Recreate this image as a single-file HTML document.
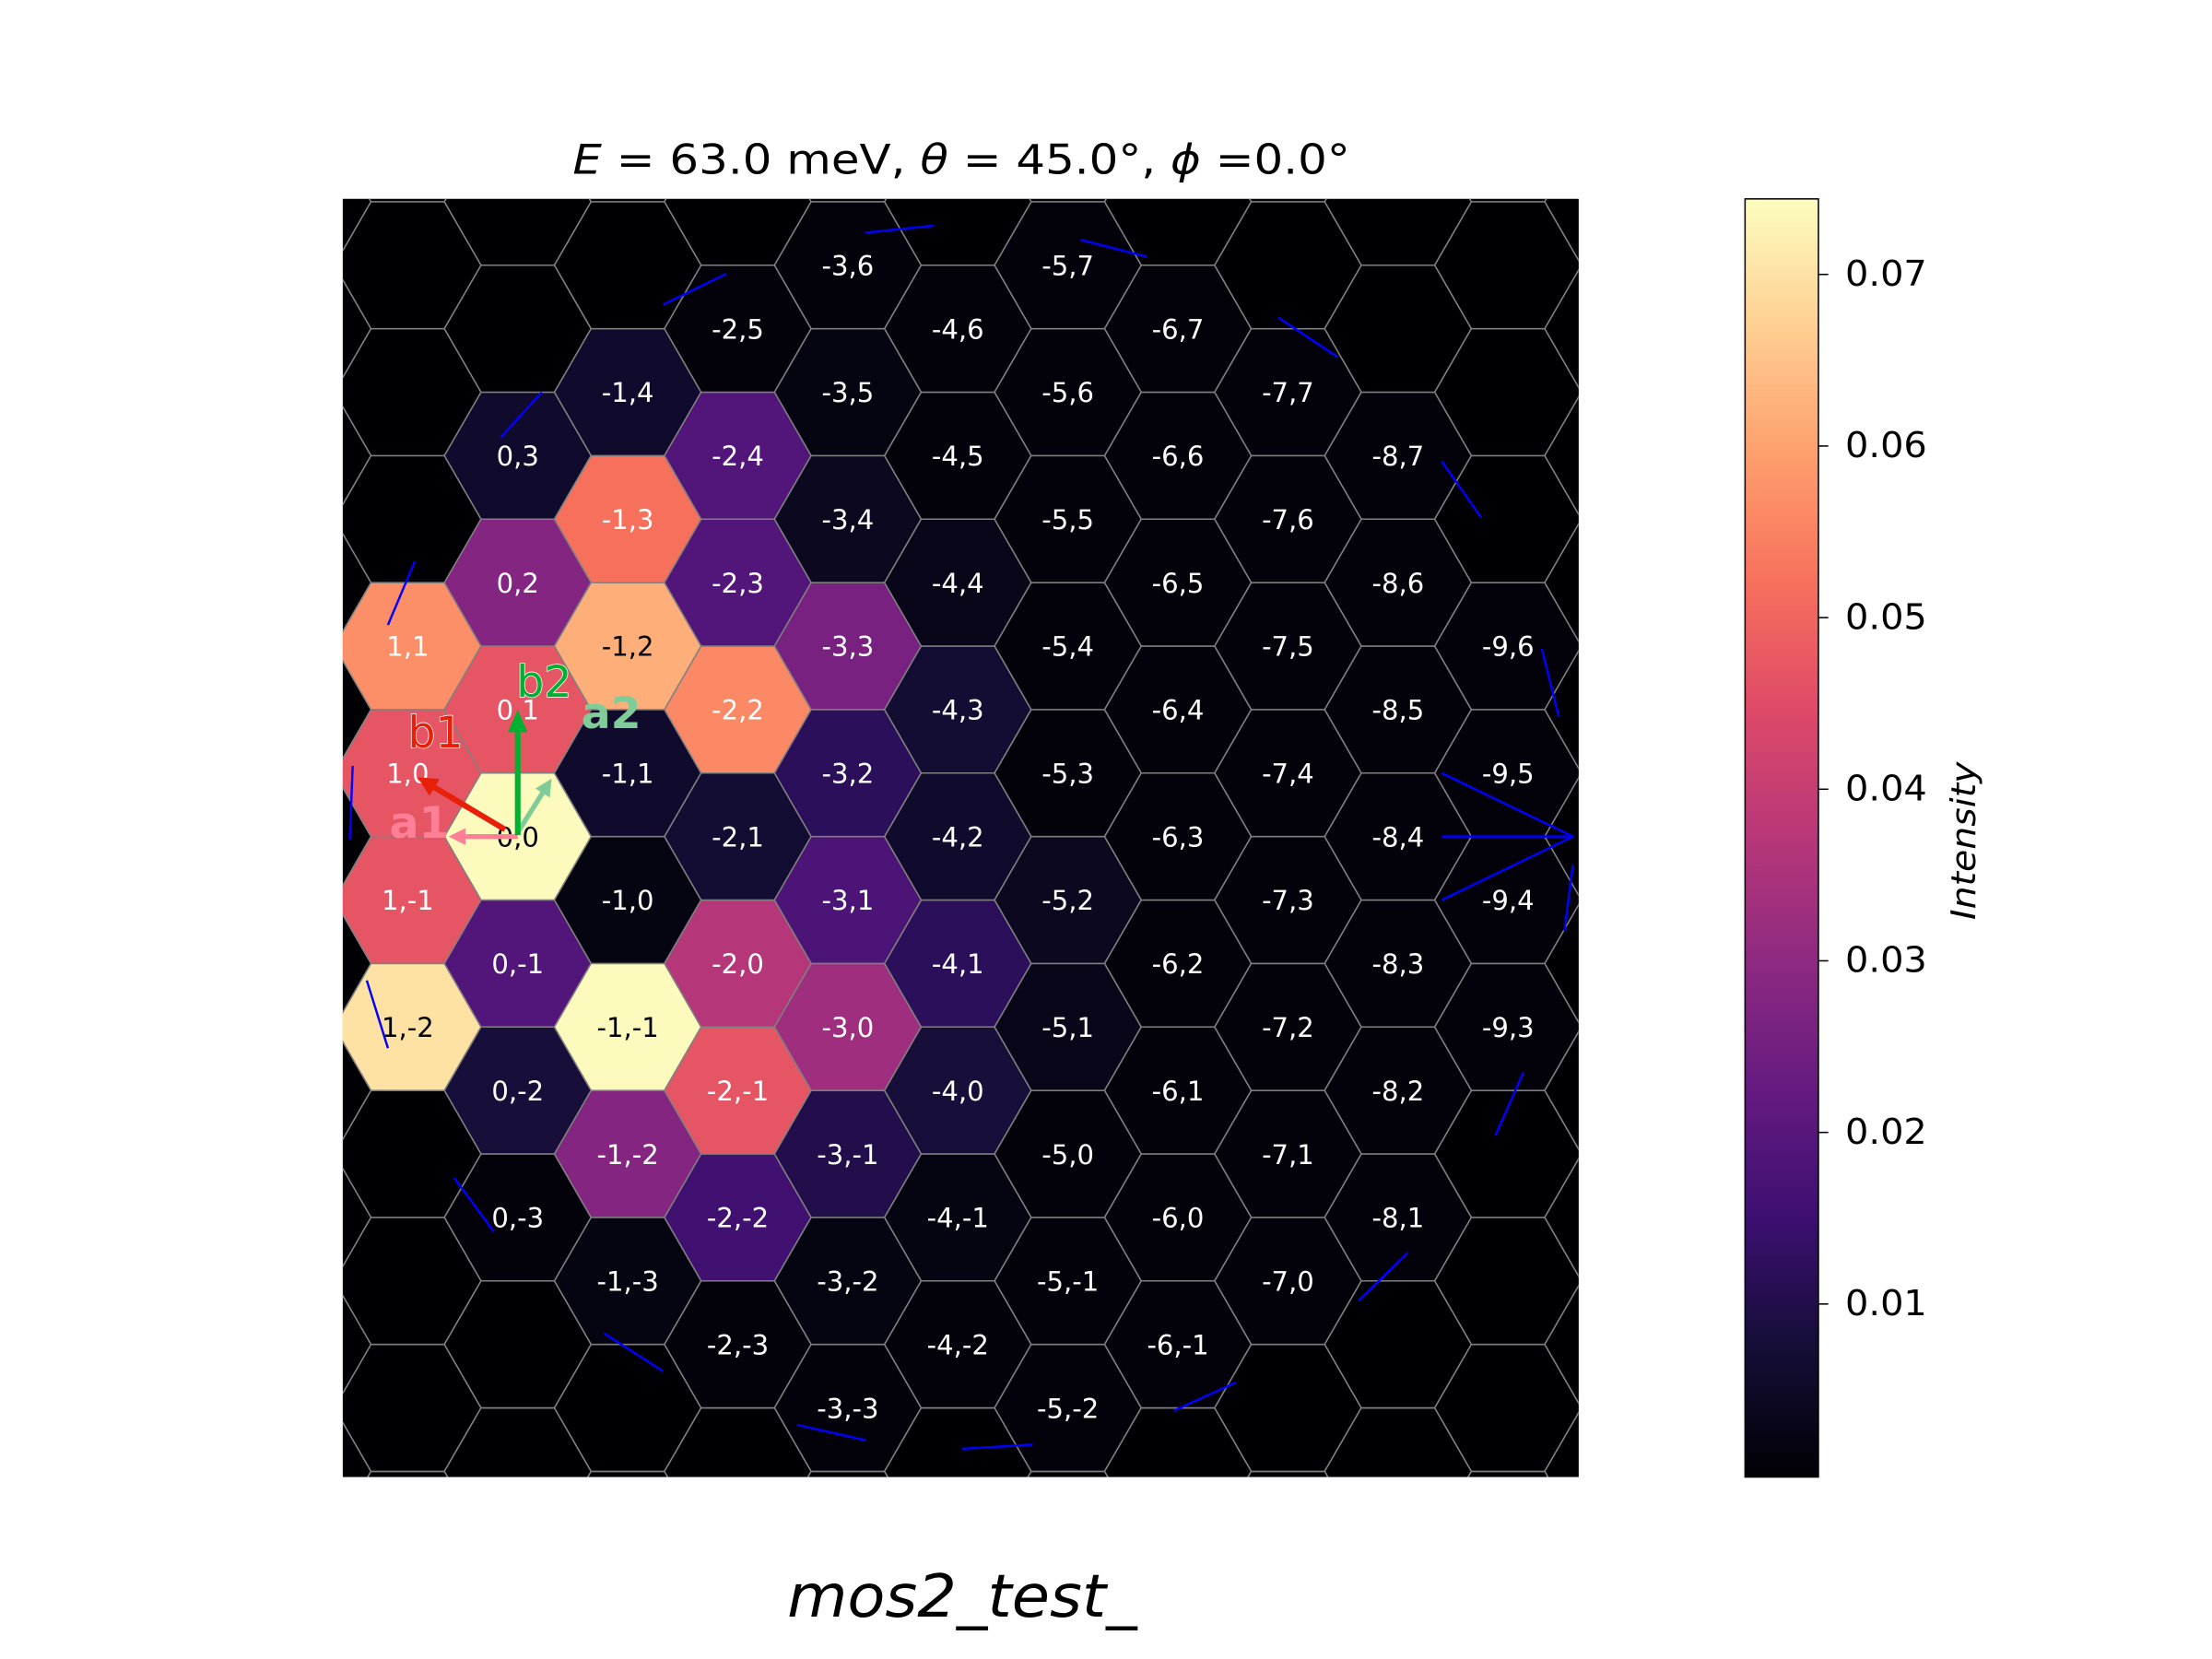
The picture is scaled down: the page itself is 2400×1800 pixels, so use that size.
<!DOCTYPE html>
<html><head><meta charset="utf-8"><style>
html,body{margin:0;padding:0;background:#fff;}
svg{display:block;font-family:"DejaVu Sans","Liberation Sans",sans-serif;}
</style></head><body>
<svg id="chart" width="2400" height="1800" viewBox="0 0 1568 1176" xmlns="http://www.w3.org/2000/svg">
<defs>
<clipPath id="plotclip"><rect x="243" y="141" width="876" height="906"/></clipPath>
<linearGradient id="cbgrad" x1="0" y1="1" x2="0" y2="0">
<stop offset="0" stop-color="#000004"/><stop offset="0.1" stop-color="#140e36"/><stop offset="0.2" stop-color="#3b0f70"/><stop offset="0.3" stop-color="#641a80"/><stop offset="0.4" stop-color="#8c2981"/><stop offset="0.5" stop-color="#b73779"/><stop offset="0.6" stop-color="#de4968"/><stop offset="0.7" stop-color="#f7705c"/><stop offset="0.8" stop-color="#fe9f6d"/><stop offset="0.9" stop-color="#fecf92"/><stop offset="1" stop-color="#fcfdbf"/>
</linearGradient>
</defs>
<text x="406" y="123" font-size="29" textLength="551" lengthAdjust="spacingAndGlyphs"><tspan font-style="italic">E</tspan> = 63.0 meV, <tspan font-style="italic">θ</tspan> = 45.0°, <tspan font-style="italic">ϕ</tspan> =0.0°</text>
<rect x="243" y="141" width="876" height="906" fill="#000004"/>
<g id="hexes" clip-path="url(#plotclip)"></g>
<g id="labels"></g>
<g id="bluelines" clip-path="url(#plotclip)"></g>
<g id="vectors"></g>
<rect x="1237" y="141" width="52" height="906" fill="url(#cbgrad)" stroke="#000" stroke-width="1"/>
<g id="cbticks"></g>
<text x="1400" y="596" text-anchor="middle" font-size="24" font-style="italic" textLength="112" lengthAdjust="spacingAndGlyphs" transform="rotate(-90 1400 596)">Intensity</text>
<text x="558" y="1146" font-size="42" font-style="italic" textLength="248" lengthAdjust="spacingAndGlyphs">mos2_test_</text>
</svg>
<script>
const hIdx = [1,1,1,1, 0,0,0,0,0,0,0, -1,-1,-1,-1,-1,-1,-1,-1, -2,-2,-2,-2,-2,-2,-2,-2,-2, -3,-3,-3,-3,-3,-3,-3,-3,-3,-3, -4,-4,-4,-4,-4,-4,-4,-4,-4, -5,-5,-5,-5,-5,-5,-5,-5,-5,-5, -6,-6,-6,-6,-6,-6,-6,-6,-6, -7,-7,-7,-7,-7,-7,-7,-7, -8,-8,-8,-8,-8,-8,-8, -9,-9,-9,-9];
const kIdx = [1,0,-1,-2, 3,2,1,0,-1,-2,-3, 4,3,2,1,0,-1,-2,-3, 5,4,3,2,1,0,-1,-2,-3, 6,5,4,3,2,1,0,-1,-2,-3, 6,5,4,3,2,1,0,-1,-2, 7,6,5,4,3,2,1,0,-1,-2, 7,6,5,4,3,2,1,0,-1, 7,6,5,4,3,2,1,0, 7,6,5,4,3,2,1, 6,5,4,3];
const intensity = [0.057,0.047,0.047,0.070, 0.006,0.028,0.047,0.074,0.019,0.008,0.001, 0.006,0.052,0.062,0.006,0.002,0.074,0.028,0.002, 0.001,0.019,0.019,0.056,0.007,0.037,0.047,0.016,0.001, 0.001,0.002,0.004,0.026,0.012,0.018,0.033,0.010,0.002,0.001, 0.001,0.001,0.003,0.007,0.006,0.012,0.008,0.002,0.001, 0.001,0.001,0.001,0.001,0.001,0.004,0.003,0.001,0.001,0.001, 0.001,0.001,0.001,0.001,0.001,0.001,0.001,0.001,0.001, 0.001,0.001,0.001,0.001,0.001,0.001,0.001,0.001, 0.001,0.001,0.001,0.001,0.001,0.001,0.001, 0.001,0.001,0.001,0.001];
const cbTicks = [0.01,0.02,0.03,0.04,0.05,0.06,0.07];
const cbTickLabels = ["0.01","0.02","0.03","0.04","0.05","0.06","0.07"];
const VMIN = 0, VMAX = 0.0744;
const NS = "http://www.w3.org/2000/svg";
const R = 52, DX = 78, DY = 90;
function cx(h,k){ return 367 - DX*h; }
function cy(h,k){ return 593 - DY*k - (DY/2)*h; }
function cbY(v){ return 1046 - (v-VMIN)/(VMAX-VMIN)*905; }
const mag = ["#000004","#140e36","#3b0f70","#641a80","#8c2981","#b73779","#de4968","#f7705c","#fe9f6d","#fecf92","#fcfdbf"];
function hex2rgb(s){ return [parseInt(s.substr(1,2),16),parseInt(s.substr(3,2),16),parseInt(s.substr(5,2),16)]; }
function magma(v){
  let t = Math.max(0,Math.min(1,(v-VMIN)/(VMAX-VMIN)))*10;
  let i = Math.min(9,Math.floor(t)), f = t-i;
  const a = hex2rgb(mag[i]), b = hex2rgb(mag[i+1]);
  return "rgb("+a.map((c,j)=>Math.round(c+(b[j]-c)*f)).join(",")+")";
}
function hexPts(x,y){
  let p=[];
  for(let i=0;i<6;i++){ const a=Math.PI/3*i; p.push((x+R*Math.cos(a)).toFixed(1)+","+(y+R*Math.sin(a)).toFixed(1)); }
  return p.join(" ");
}
const gH = document.getElementById("hexes");
const gL = document.getElementById("labels");
const valMap = {};
hIdx.forEach((h,i)=>{ valMap[h+","+kIdx[i]] = intensity[i]; });
for(let h=3;h>=-10;h--){
  for(let k=-20;k<=20;k++){
    const x=cx(h,k), y=cy(h,k);
    if(x<190||x>1175||y<90||y>1100) continue;
    const key=h+","+k;
    const v = valMap[key];
    const poly=document.createElementNS(NS,"polygon");
    poly.setAttribute("points",hexPts(x,y));
    poly.setAttribute("fill", v===undefined ? "#000004" : magma(v));
    poly.setAttribute("stroke","#808080");
    poly.setAttribute("stroke-width","1");
    
    
    gH.appendChild(poly);
    if(v!==undefined){
      const t=document.createElementNS(NS,"text");
      t.setAttribute("x",x); t.setAttribute("y",y+7);
      t.setAttribute("text-anchor","middle");
      t.setAttribute("font-size","19");
      t.setAttribute("fill", v>0.06 ? "#000" : "#fff");
      t.textContent=key;
      
      
      gL.appendChild(t);
    }
  }
}
const gB=document.getElementById("bluelines");
const segs=[[275,443,294,398],[250,543,248,595],[260,695,275,743],[322,835,350,873],[355,310,384,278],[470,216,515,194],[613,165,662,160],[766,170,813,182],[906,225,948,253],[1022,327,1050,367],[1093,460,1105,508],[1115,613,1109,660],[1080,760,1060,805],[998,888,963,922],[876,980,832,1000],[732,1024,682,1027],[565,1010,614,1021],[428,945,470,972],[1022,548,1115,593],[1022,638,1115,593],[1022,593,1115,593]];
segs.forEach(s=>{
  const l=document.createElementNS(NS,"line");
  l.setAttribute("x1",s[0]);l.setAttribute("y1",s[1]);l.setAttribute("x2",s[2]);l.setAttribute("y2",s[3]);
  l.setAttribute("stroke","#0000ff");l.setAttribute("stroke-width","1.6");
  
  
  gB.appendChild(l);
});
const gV=document.getElementById("vectors");
function arrow(x1,y1,x2,y2,color,w,hw,hl,name){
  const dx=x2-x1, dy=y2-y1, L=Math.hypot(dx,dy), ux=dx/L, uy=dy/L;
  const bx=x2-ux*hl, by=y2-uy*hl;
  const g=document.createElementNS(NS,"g");
  
  
  const l=document.createElementNS(NS,"line");
  l.setAttribute("x1",x1);l.setAttribute("y1",y1);l.setAttribute("x2",bx);l.setAttribute("y2",by);
  l.setAttribute("stroke",color);l.setAttribute("stroke-width",w);
  g.appendChild(l);
  const p=document.createElementNS(NS,"polygon");
  p.setAttribute("points",x2+","+y2+" "+(bx-uy*hw)+","+(by+ux*hw)+" "+(bx+uy*hw)+","+(by-ux*hw));
  p.setAttribute("fill",color);
  g.appendChild(p);
  gV.appendChild(g);
}
arrow(367,593,318,593,"#ff7f96",3.5,6,12,"a1-arrow");
arrow(367,590,391,552,"#80cc99",3.5,6,12,"a2-arrow");
arrow(358,588,296,551,"#e8200a",4,7,14,"b1-arrow");
arrow(367,592,367,503,"#00b030",4,7,16,"b2-arrow");
function vlabel(x,y,txt,color,bold,name,outline){
  const t=document.createElementNS(NS,"text");
  t.setAttribute("x",x);t.setAttribute("y",y);t.setAttribute("font-size","31");
  t.setAttribute("fill",color);
  if(bold) t.setAttribute("font-weight","bold");
  if(outline){ t.setAttribute("stroke","#fff"); t.setAttribute("stroke-width","1"); t.setAttribute("paint-order","stroke"); }
  t.textContent=txt;
  
  
  gV.appendChild(t);
}
vlabel(276,594,"a1","#ff7f96",true,"a1-label",false);
vlabel(412,516,"a2","#80cc99",true,"a2-label",false);
vlabel(289,530,"b1","#e8200a",false,"b1-label",true);
vlabel(366,494,"b2","#00b030",false,"b2-label",true);
const gC=document.getElementById("cbticks");
cbTicks.forEach((v,i)=>{
  const y=cbY(v);
  const l=document.createElementNS(NS,"line");
  l.setAttribute("x1",1289);l.setAttribute("x2",1296);l.setAttribute("y1",y);l.setAttribute("y2",y);
  l.setAttribute("stroke","#000");l.setAttribute("stroke-width","1");
  
  
  gC.appendChild(l);
  const t=document.createElementNS(NS,"text");
  t.setAttribute("x",1308);t.setAttribute("y",y+8);t.setAttribute("font-size","25");
  t.setAttribute("textLength","58");t.setAttribute("lengthAdjust","spacingAndGlyphs");
  t.textContent=cbTickLabels[i];
  
  
  gC.appendChild(t);
});
</script>
</body></html>
